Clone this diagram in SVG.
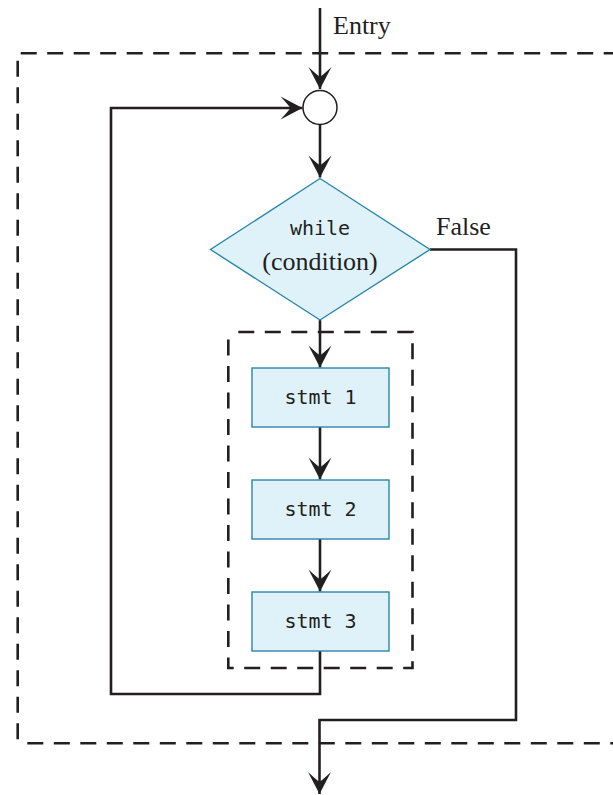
<svg xmlns="http://www.w3.org/2000/svg" width="613" height="795" viewBox="0 0 613 795">
  <style>
    .bg { fill: #ffffff; }
    .wire { fill: none; stroke: #231f20; stroke-width: 2.6; }
    .dash { fill: none; stroke: #231f20; stroke-width: 2.6; stroke-dasharray: 16 10.5; }
    .shape { fill: #dff2fa; stroke: #2a86ad; stroke-width: 1.4; }
    .joint { fill: #ffffff; stroke: #231f20; stroke-width: 1.5; }
    .serif { font-family: "Liberation Serif", "Times New Roman", serif; font-size: 26px; fill: #231f20; }
    .mono { font-family: "DejaVu Sans Mono", "Liberation Mono", monospace; font-size: 20px; fill: #231f20; text-anchor: middle; }
  </style>
  <defs>
    <marker id="arrow" markerUnits="userSpaceOnUse" markerWidth="26" markerHeight="26" viewBox="-24 -13 26 26" refX="0" refY="0" orient="auto">
      <path d="M0,0 L-22,-11.5 Q-15,-4 -12,0 Q-15,4 -22,11.5 Z" fill="#231f20"/>
    </marker>
  </defs>

  <rect class="bg" x="0" y="0" width="613" height="795"/>

  <!-- dashed frames: whole loop and loop body -->
  <g id="frames">
    <path class="dash" d="M20.7,53.3 H613"/>
    <path class="dash" d="M17.7,60.7 V742"/>
    <path class="dash" d="M27.3,743.3 H613"/>
    <path class="dash" d="M238.3,332 H412.5 V668 H228.3 V332"/>
  </g>

  <!-- connectors -->
  <g id="connectors">
    <path class="wire" d="M320,8 V89" marker-end="url(#arrow)"/>
    <path class="wire" d="M320,124.5 V177.5" marker-end="url(#arrow)"/>
    <path class="wire" d="M320,320 V367.5" marker-end="url(#arrow)"/>
    <path class="wire" d="M320,427 V479.5" marker-end="url(#arrow)"/>
    <path class="wire" d="M320,539 V591.5" marker-end="url(#arrow)"/>
    <path class="wire" d="M320,651 V694 H111 V108 H302.5" marker-end="url(#arrow)"/>
    <path class="wire" d="M430,249.5 H516 V720 H319.5 V794" marker-end="url(#arrow)"/>
  </g>

  <g id="entry">
    <text class="serif" x="333" y="33.5">Entry</text>
  </g>

  <g id="join">
    <circle class="joint" cx="320" cy="107.5" r="17"/>
  </g>

  <g id="condition">
    <polygon class="shape" points="320,178.5 430,249.5 320,320 210.5,249.5"/>
    <text class="mono" x="320" y="235">while</text>
    <text class="serif" x="320" y="270" text-anchor="middle">(condition)</text>
  </g>

  <g id="false-label">
    <text class="serif" x="436" y="235">False</text>
  </g>

  <g id="stmt1">
    <rect class="shape" x="252" y="368" width="137" height="59"/>
    <text class="mono" x="320.5" y="404">stmt 1</text>
  </g>

  <g id="stmt2">
    <rect class="shape" x="252" y="480" width="137" height="59"/>
    <text class="mono" x="320.5" y="516">stmt 2</text>
  </g>

  <g id="stmt3">
    <rect class="shape" x="252" y="592" width="137" height="59"/>
    <text class="mono" x="320.5" y="628">stmt 3</text>
  </g>
</svg>
